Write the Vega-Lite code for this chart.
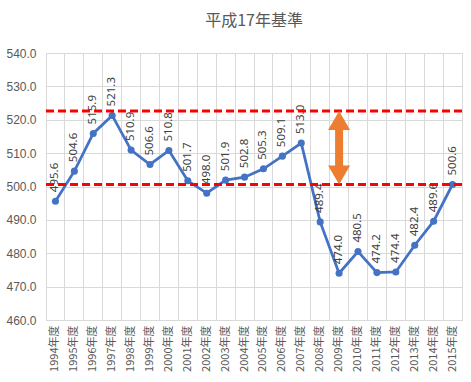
{
  "$schema": "https://vega.github.io/schema/vega-lite/v6.json",
  "width": 416,
  "height": 267,
  "padding": {"left": 5, "top": 13, "right": 9, "bottom": 5},
  "title": {"text": "平成17年基準", "font": "Noto Sans CJK JP", "fontSize": 16, "fontWeight": "normal", "color": "#595959", "offset": 18},
  "config": {"view": {"stroke": "#d9d9d9", "strokeWidth": 1}},
  "datasets": {
    "main": [
      {"year": "1994年度", "value": 495.6},
      {"year": "1995年度", "value": 504.6},
      {"year": "1996年度", "value": 515.9},
      {"year": "1997年度", "value": 521.3},
      {"year": "1998年度", "value": 510.9},
      {"year": "1999年度", "value": 506.6},
      {"year": "2000年度", "value": 510.8},
      {"year": "2001年度", "value": 501.7},
      {"year": "2002年度", "value": 498.0},
      {"year": "2003年度", "value": 501.9},
      {"year": "2004年度", "value": 502.8},
      {"year": "2005年度", "value": 505.3},
      {"year": "2006年度", "value": 509.1},
      {"year": "2007年度", "value": 513.0},
      {"year": "2008年度", "value": 489.4},
      {"year": "2009年度", "value": 474.0},
      {"year": "2010年度", "value": 480.5},
      {"year": "2011年度", "value": 474.2},
      {"year": "2012年度", "value": 474.4},
      {"year": "2013年度", "value": 482.4},
      {"year": "2014年度", "value": 489.6},
      {"year": "2015年度", "value": 500.6}
    ],
    "refs": [{"value": 522.6}, {"value": 500.6}],
    "shaft": [{"year": "2009年度", "value": 519.8, "value2": 503.4}],
    "headUp": [{"year": "2009年度", "value": 522.6}],
    "headDown": [{"year": "2009年度", "value": 500.6}]
  },
  "encoding": {
    "x": {
      "field": "year", "type": "nominal", "sort": null, "bandPosition": 0.5,
      "scale": {"type": "band", "paddingInner": 0, "paddingOuter": 0},
      "axis": {
        "title": null, "bandPosition": 0, "labelOffset": 0, "labelAngle": -90,
        "labelFont": "Noto Sans CJK JP", "labelFontSize": 11, "labelColor": "#595959",
        "labelPadding": 5, "ticks": false, "domain": false, "labelOverlap": false,
        "grid": true, "gridColor": "#d9d9d9", "gridWidth": 1
      }
    },
    "y": {
      "field": "value", "type": "quantitative",
      "scale": {"domain": [460, 540], "nice": false, "zero": false},
      "axis": {
        "title": null, "values": [460, 470, 480, 490, 500, 510, 520, 530, 540], "tickCount": 20, "format": ".1f",
        "labelFont": "Liberation Sans", "labelFontSize": 12, "labelColor": "#595959", "labelPadding": 10,
        "labelOverlap": false, "labelBound": false,
        "ticks": false, "domain": false, "gridColor": "#d9d9d9", "gridWidth": 1
      }
    }
  },
  "layer": [
    {
      "data": {"name": "main"},
      "mark": {"type": "line", "color": "#4472C4", "strokeWidth": 2.75}
    },
    {
      "data": {"name": "main"},
      "mark": {"type": "point", "filled": true, "opacity": 1, "color": "#4472C4", "size": 50}
    },
    {
      "data": {"name": "main"},
      "mark": {"type": "text", "angle": 270, "align": "left", "baseline": "middle", "dx": 9, "font": "Noto Sans", "fontSize": 11.5, "color": "#404040"},
      "encoding": {
        "text": {"field": "value", "type": "quantitative", "format": ".1f"}
      }
    },
    {
      "data": {"name": "refs"},
      "mark": {"type": "rule", "color": "#FF0000", "strokeWidth": 3, "strokeDash": [8, 4]},
      "encoding": {"x": null}
    },
    {
      "data": {"name": "shaft"},
      "mark": {"type": "rule", "color": "#ED7D31", "strokeWidth": 8},
      "encoding": {"y2": {"field": "value2"}}
    },
    {
      "data": {"name": "headUp"},
      "mark": {"type": "point", "shape": "triangle-up", "filled": true, "opacity": 1, "color": "#ED7D31", "size": 484, "yOffset": 9.5}
    },
    {
      "data": {"name": "headDown"},
      "mark": {"type": "point", "shape": "triangle-down", "filled": true, "opacity": 1, "color": "#ED7D31", "size": 484, "yOffset": -9.5}
    }
  ]
}
